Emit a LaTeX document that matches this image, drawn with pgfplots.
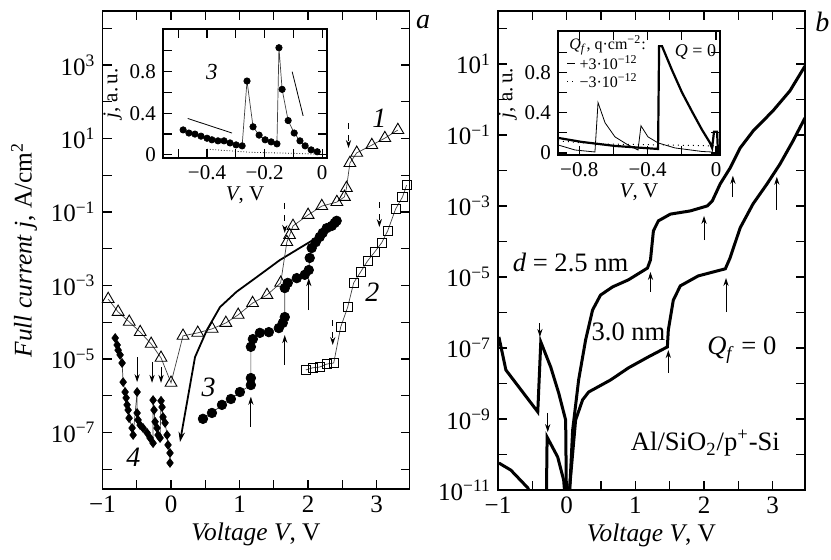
\documentclass[border=0pt]{standalone}
\usepackage{fontspec}
\setmainfont{Liberation Serif}
\usepackage{pgfplots}
\pgfplotsset{compat=1.18}
\usetikzlibrary{arrows.meta}
\newcommand{\p}[1]{10\textsuperscript{#1}}
\begin{document}
\begin{tikzpicture}[font=\fontsize{12}{14}\selectfont]
\useasboundingbox (0,0) rectangle (415.5pt,-279.5pt);
\tikzset{
  arr/.style={-{Stealth[length=4pt,width=2.6pt]}, line width=0.45pt},
  darr/.style={arr, dashed},
}
\pgfplotsset{
  box/.style={scale only axis, axis line style={line width=0.9pt}, tick style={black, line width=0.6pt},
    major tick length=4.5pt, minor tick length=4.5pt},
  main/.style={box, width=153.5pt, height=239pt, xmin=-1,
    xtick={-1,0,1,2,3}, xticklabels={−1,0,1,2,3}, minor xtick={-0.5,0.5,1.5,2.5},
    ticklabel style={font=\fontsize{12.5}{14}\selectfont},
    label style={font=\fontsize{12.7}{14}\selectfont},
    xlabel style={yshift=2pt},
    xlabel={\textit{Voltage V}, V}},
  inset/.style={box, ticklabel style={font=\fontsize{10.5}{12}\selectfont},
    label style={font=\fontsize{10.5}{12}\selectfont},
    ytick={0,0.4,0.8}, yticklabels={0,0.4,0.8}, minor ytick={0.2,0.6,1.0},
    ylabel style={yshift=-3pt}, xlabel style={yshift=3pt},
    ylabel={\textit{j}, a.\,u.}, xlabel={\textit{V}, V}},
  thinl/.style={black!75, line width=0.35pt},
}
% ================= (a) =================
\begin{axis}[main, at={(51.25pt,-244.5pt)}, anchor=south west, xmax=3.48,
  ymin=-8.54, ymax=4.47, ytick={-7,-5,-3,-1,1,3},
  yticklabels={\p{−7},\p{−5},\p{−3},\p{−1},\p{1},\p{3}},
  minor ytick={-8,-6,-4,-2,0,2,4},
  ylabel={\textit{Full current j}, A/cm\textsuperscript{2}}]
% theory curve
\addplot[line width=0.9pt, {Stealth[length=5pt,width=3.2pt]}-] coordinates {
(0.131,-7.26) (0.35,-4.95) (0.524,-4.21) (0.714,-3.59) (0.957,-3.17) (1.252,-2.77)
(1.587,-2.31) (1.922,-1.93) (2.272,-1.54) (2.432,-1.30)};
% 1: triangles
\addplot[thinl, mark=triangle, mark size=3.4pt, mark options={solid, black, fill=white, line width=0.45pt}] coordinates {
(-0.917,-3.37) (-0.772,-3.72) (-0.61,-3.99) (-0.45,-4.27) (-0.29,-4.59) (-0.146,-4.97)
(0,-5.65) (0.175,-4.37) (0.39,-4.29) (0.60,-4.18) (0.80,-4.02) (0.98,-3.80) (1.19,-3.48)
(1.40,-3.26) (1.60,-2.93) (1.69,-1.82) (1.73,-1.63) (1.78,-1.38) (2.0,-1.08) (2.2,-0.84)
(2.42,-0.73) (2.53,-0.59) (2.56,-0.35) (2.61,0.33) (2.71,0.61) (2.93,0.82) (3.12,1.01) (3.31,1.23)};
% 2: squares
\addplot[thinl, mark=square, mark size=2.3pt, mark options={solid, black, fill=white, line width=0.45pt}] coordinates {
(1.966,-5.30) (2.068,-5.24) (2.170,-5.22) (2.272,-5.14) (2.374,-5.11) (2.476,-4.13)
(2.578,-3.59) (2.665,-2.93) (2.767,-2.63) (2.869,-2.33) (2.971,-2.09) (3.073,-1.84)
(3.160,-1.52) (3.277,-0.92) (3.378,-0.59) (3.437,-0.27)};
% 3: circles
\addplot[thinl, mark=*, mark size=2.4pt, mark options={solid, black}] coordinates {
(0.466,-6.63) (0.597,-6.47) (0.743,-6.25) (0.874,-6.09) (1.005,-5.90) (1.165,-5.71)
(1.165,-5.52) (1.165,-4.67) (1.194,-4.46) (1.296,-4.29) (1.427,-4.27) (1.573,-4.16)
(1.631,-4.02) (1.660,-3.86) (1.660,-3.07) (1.704,-2.93) (1.835,-2.80) (1.951,-2.71)
(2.010,-2.58) (2.024,-2.25) (2.053,-1.98) (2.112,-1.82) (2.170,-1.68) (2.213,-1.57)
(2.272,-1.44) (2.345,-1.38) (2.388,-1.30) (2.417,-1.24)};
% 4: diamonds
\addplot[thinl, mark=diamond*, mark size=2.2pt, mark options={solid, black}] coordinates {
(-0.815,-4.43) (-0.786,-4.62) (-0.772,-4.76) (-0.743,-4.89) (-0.714,-5.11) (-0.699,-5.63)
(-0.670,-5.90) (-0.655,-6.06) (-0.641,-6.25) (-0.626,-6.39) (-0.612,-6.61) (-0.568,-6.88)
(-0.553,-7.07) (-0.495,-5.90) (-0.495,-6.47) (-0.481,-6.66) (-0.451,-6.80) (-0.408,-6.88)
(-0.350,-7.01) (-0.306,-7.15) (-0.262,-7.29) (-0.262,-6.12) (-0.248,-6.39) (-0.233,-6.71)
(-0.204,-6.88) (-0.189,-7.07) (-0.160,-7.15) (-0.146,-6.14) (-0.131,-6.31) (-0.117,-6.58)
(-0.087,-6.74) (-0.058,-7.07) (-0.044,-7.34) (-0.015,-7.56) (-0.015,-7.83)};
% arrows
\draw[arr] (axis cs:-0.495,-4.95) -- (axis cs:-0.495,-5.63);
\draw[arr] (axis cs:-0.277,-5.08) -- (axis cs:-0.277,-5.65);
\draw[arr] (axis cs:-0.146,-5.22) -- (axis cs:-0.146,-5.65);
\draw[darr] (axis cs:1.66,-0.755) -- (axis cs:1.66,-1.57);
\draw[darr] (axis cs:2.59,1.42) -- (axis cs:2.59,0.74);
\draw[darr] (axis cs:2.36,-3.94) -- (axis cs:2.36,-4.62);
\draw[darr] (axis cs:3.04,-0.73) -- (axis cs:3.04,-1.41);
\draw[arr] (axis cs:1.165,-6.85) -- (axis cs:1.165,-6.03);
\draw[arr] (axis cs:1.66,-5.16) -- (axis cs:1.66,-4.35);
\draw[arr] (axis cs:2.01,-3.67) -- (axis cs:2.01,-2.80);
\node[font=\fontsize{14}{15}\itshape] at (axis cs:3.04,1.56) {1};
\node[font=\fontsize{14}{15}\itshape] at (axis cs:2.94,-3.18) {2};
\node[font=\fontsize{14}{15}\itshape] at (axis cs:0.55,-5.76) {3};
\node[font=\fontsize{14}{15}\itshape] at (axis cs:-0.55,-7.67) {4};
\end{axis}
% inset (a)
\begin{axis}[inset, at={(81.5pt,-79pt)}, anchor=south west, width=82pt, height=64.5pt,
  xmin=-0.553, xmax=0.017, ymin=-0.03, ymax=1.21,
  xtick={-0.4,-0.2,0}, xticklabels={−0.4,−0.2,0}, minor xtick={-0.5,-0.3,-0.1}]
\addplot[thinl, mark=*, mark size=1.6pt, mark options={solid, black}] coordinates {
(-0.483,0.24) (-0.463,0.21) (-0.442,0.20) (-0.421,0.18) (-0.40,0.16) (-0.383,0.145)
(-0.362,0.135) (-0.341,0.135) (-0.32,0.115) (-0.299,0.096) (-0.278,0.087) (-0.261,0.71)
(-0.24,0.27) (-0.219,0.19) (-0.198,0.145) (-0.177,0.125) (-0.157,0.106) (-0.15,1.03)
(-0.139,0.63) (-0.118,0.33) (-0.097,0.21) (-0.077,0.135) (-0.059,0.087) (-0.038,0.048) (-0.017,0.03)};
\addplot[line width=0.4pt, densely dotted] coordinates {(-0.4,0.055) (-0.25,0.025) (-0.1,0.015) (0,0.005)};
\addplot[line width=0.4pt] coordinates {(-0.467,0.35) (-0.313,0.21)};
\addplot[line width=0.4pt] coordinates {(-0.104,0.80) (-0.066,0.375)};
\node[font=\fontsize{11.5}{12}\itshape] at (axis cs:-0.383,0.80) {3};
\end{axis}
% ================= (b) =================
\begin{axis}[main, at={(249pt,-245pt)}, anchor=south west, height=239.5pt, xmax=3.47,
  ymin=-11, ymax=2.49, ytick={-11,-9,-7,-5,-3,-1,1},
  yticklabels={\p{−11},\p{−9},\p{−7},\p{−5},\p{−3},\p{−1},\p{1}},
  minor ytick={-10,-8,-6,-4,-2,0,2}]
% d = 2.5 nm
\addplot[line width=1.5pt] coordinates {
(-0.987,-6.69) (-0.885,-7.62) (-0.421,-8.80) (-0.377,-6.83) (-0.232,-7.54) (-0.116,-8.27)
(-0.015,-9.03) (0,-12) (0.044,-11) (0.087,-9.31) (0.174,-7.90) (0.276,-6.77) (0.377,-5.93)
(0.493,-5.51) (0.668,-5.28) (0.90,-5.08) (1.176,-4.75) (1.22,-4.52) (1.263,-3.70)
(1.335,-3.42) (1.51,-3.23) (1.80,-3.14) (2.046,-3.0) (2.12,-2.86) (2.235,-2.38) (2.38,-1.93)
(2.525,-1.37) (2.714,-0.89) (3.004,-0.32) (3.25,0.24) (3.47,0.94)};
% d = 3.0 nm
\addplot[line width=1.5pt] coordinates {
(-0.987,-10.24) (-0.813,-10.44) (-0.566,-10.94) (-0.45,-11.5) (-0.31,-11.5) (-0.30,-12)
(-0.285,-9.51) (-0.131,-10.07) (-0.044,-10.72) (0.01,-12) (0.04,-11) (0.13,-9.03)
(0.232,-8.46) (0.32,-8.24) (0.64,-7.90) (0.9,-7.56) (1.19,-7.25) (1.466,-6.97) (1.48,-6.49)
(1.553,-5.65) (1.655,-5.25) (1.916,-4.97) (2.31,-4.77) (2.38,-4.46) (2.525,-3.62)
(2.714,-2.94) (2.917,-2.38) (3.106,-1.82) (3.295,-1.17) (3.47,-0.52)};
\draw[arr] (axis cs:-0.39,-6.30) -- (axis cs:-0.39,-6.69);
\draw[arr] (axis cs:-0.276,-8.83) -- (axis cs:-0.276,-9.37);
\draw[arr] (axis cs:1.22,-5.42) -- (axis cs:1.22,-4.86);
\draw[arr] (axis cs:1.48,-7.70) -- (axis cs:1.48,-7.06);
\draw[arr] (axis cs:2.0,-3.96) -- (axis cs:2.0,-3.28);
\draw[arr] (axis cs:2.32,-5.99) -- (axis cs:2.32,-5.03);
\draw[arr] (axis cs:2.42,-2.75) -- (axis cs:2.42,-2.15);
\draw[arr] (axis cs:3.06,-3.11) -- (axis cs:3.06,-2.18);
\node[anchor=west, font=\fontsize{13.3}{14}\selectfont, inner sep=0pt] at (axis cs:-0.79,-4.58) {\textit{d} = 2.5 nm};
\node[font=\fontsize{13.3}{14}\selectfont] at (axis cs:0.9,-6.55) {3.0 nm};
\node[font=\fontsize{13.3}{14}\selectfont] at (axis cs:2.55,-7.06) {\textit{Q}\textsubscript{\textit{f}} = 0};
\node[font=\fontsize{13.3}{14}\selectfont] at (axis cs:2.02,-9.68) {Al/SiO\textsubscript{2}/p\textsuperscript{+}-Si};
\end{axis}
% inset (b)
\begin{axis}[inset, at={(279pt,-77.5pt)}, anchor=south west, width=81pt, height=62pt,
  xmin=-0.924, xmax=0.023, ymin=-0.02, ymax=1.21,
  xtick={-0.8,-0.4,0}, xticklabels={−0.8,−0.4,0}, minor xtick={-0.6,-0.2}]
\addplot[line width=1.1pt] coordinates {
(-0.924,0.15) (-0.786,0.11) (-0.591,0.07) (-0.339,0.04) (-0.333,1.06) (-0.316,1.06)
(-0.257,0.82) (-0.199,0.60) (-0.14,0.41) (-0.082,0.23) (-0.035,0.10) (-0.023,0.05)
(-0.012,0.21) (0.006,0.21) (0.012,-0.02)};
\addplot[line width=0.4pt] coordinates {
(-0.924,0.08) (-0.825,0.03) (-0.708,0.01) (-0.69,0.50) (-0.649,0.30) (-0.591,0.16)
(-0.515,0.08) (-0.456,0.03) (-0.439,0.27) (-0.398,0.16) (-0.339,0.10) (-0.24,0.05)
(-0.082,0.015) (-0.023,0.01)};
\addplot[line width=0.5pt, dotted] coordinates {(-0.924,0.12) (-0.7,0.09) (-0.3,0.08) (0,0.07)};
\node[anchor=west, font=\fontsize{8}{9}\selectfont, inner sep=0pt] at (axis cs:-0.86,1.07)
  {\textit{Q}\textsubscript{\textit{f}}, q·cm\textsuperscript{−2}:};
\node[anchor=west, font=\fontsize{8}{9}\selectfont, inner sep=0pt] at (axis cs:-0.80,0.895)
  {+3·10\textsuperscript{−12}};
\node[anchor=west, font=\fontsize{8}{9}\selectfont, inner sep=0pt] at (axis cs:-0.80,0.715)
  {−3·10\textsuperscript{−12}};
\draw[line width=0.4pt] (axis cs:-0.87,0.89) -- (axis cs:-0.825,0.89);
\draw[line width=0.5pt, dotted] (axis cs:-0.87,0.705) -- (axis cs:-0.825,0.705);
\node[font=\fontsize{9}{10}\selectfont] at (axis cs:-0.12,1.0) {\textit{Q} = 0};
\end{axis}
\node[font=\fontsize{14}{15}\itshape] at (211.5pt,-11pt) {a};
\node[anchor=west, inner sep=0pt, font=\fontsize{14}{15}\itshape] at (407.5pt,-11pt) {b};
\end{tikzpicture}
\end{document}
